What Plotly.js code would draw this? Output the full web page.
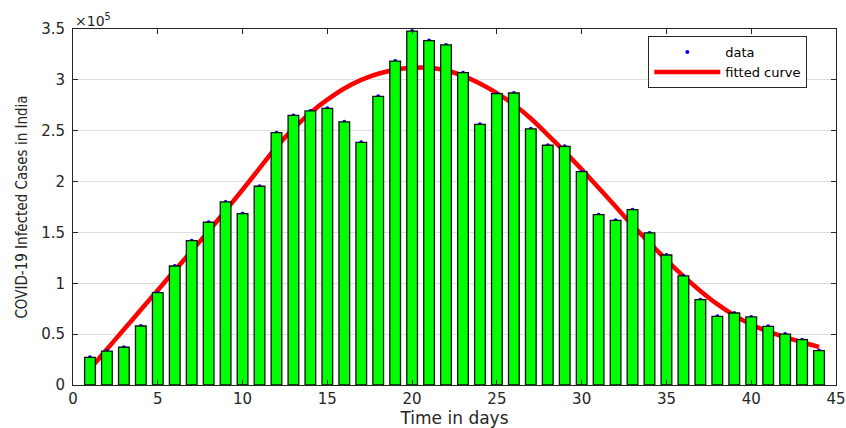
<!DOCTYPE html>
<html>
<head>
<meta charset="utf-8">
<script src="https://cdn.plot.ly/plotly-3.0.1.min.js"></script>
<style>
  html, body { margin: 0; padding: 0; background: #ffffff; }
  #chart { width: 846px; height: 428px; }
</style>
</head>
<body>
<div id="chart"></div>
<script>
// Daily new COVID-19 cases in India over 44 days
const days = [1, 2, 3, 4, 5, 6, 7, 8, 9, 10, 11, 12, 13, 14, 15, 16, 17, 18, 19, 20, 21, 22,
              23, 24, 25, 26, 27, 28, 29, 30, 31, 32, 33, 34, 35, 36, 37, 38, 39, 40, 41, 42, 43, 44];

const cases = [27200, 33400, 37100, 58000, 90800, 117000, 141900, 160000, 180000, 168500,
               195400, 248100, 265000, 269500, 272000, 258700, 238600, 283800, 318500, 348000,
               338600, 334300, 307100, 256300, 286400, 287100, 251900, 235700, 234700, 209700,
               167500, 161900, 172400, 149500, 127800, 107200, 83900, 67500, 70800, 66900,
               57700, 50100, 44600, 33800];

// Fitted curve evaluated at each day
const fitted = [15800, 35200, 54500, 73900, 93200, 112600, 131900, 151300, 171500, 192000,
                213000, 234000, 252000, 267500, 280500, 291500, 300000, 306000, 310000, 311800,
                312000, 309500, 304000, 296500, 287000, 275700, 262000, 246000, 229500, 212000,
                194000, 175500, 157000, 139700, 123000, 107000, 92500, 79500, 68500, 59500,
                52500, 47000, 42000, 37500];

const xTicks = [0, 5, 10, 15, 20, 25, 30, 35, 40, 45];
const yTicks = [0, 50000, 100000, 150000, 200000, 250000, 300000, 350000];
const yTickText = ['0', '0.5', '1', '1.5', '2', '2.5', '3', '3.5'];

const tickFont = { family: 'DejaVu Sans, Liberation Sans, sans-serif', size: 15, color: '#262626' };

const curveTrace = {
  x: days, y: fitted, type: 'scatter', mode: 'lines', name: 'fitted curve',
  line: { color: '#ff0000', width: 4.5, shape: 'spline', smoothing: 1 },
  legendrank: 2, hoverinfo: 'skip'
};

const dataTrace = {
  x: days, y: cases, type: 'scatter', mode: 'markers', name: 'data',
  marker: { color: '#0000ff', size: 4 },
  legendrank: 1, hoverinfo: 'skip'
};

// Bars sit on an overlaid axis pair so they are drawn above the curve
const barTrace = {
  x: days, y: cases, type: 'bar', xaxis: 'x2', yaxis: 'y2', width: 0.63,
  marker: { color: '#00ff00', line: { color: '#111111', width: 1.3 } },
  showlegend: false, hoverinfo: 'skip'
};

const layout = {
  width: 846, height: 428,
  margin: { l: 73, r: 10, t: 29, b: 43 },
  paper_bgcolor: '#ffffff', plot_bgcolor: '#ffffff',
  showlegend: true,
  legend: {
    x: 0.754, y: 0.98, xanchor: 'left', yanchor: 'top',
    bgcolor: '#ffffff', bordercolor: '#262626', borderwidth: 1,
    font: { family: 'DejaVu Sans, Liberation Sans, sans-serif', size: 13, color: '#000000' },
    itemwidth: 66, tracegroupgap: 0
  },
  xaxis: {
    range: [0, 45], tickvals: xTicks, ticktext: xTicks.map(String),
    ticks: 'inside', ticklen: 5, tickcolor: '#262626', mirror: 'allticks',
    showline: true, linecolor: '#262626', linewidth: 1,
    showgrid: false, zeroline: false, tickfont: tickFont, automargin: false,
    title: { text: 'Time in days', standoff: 6,
             font: { family: 'DejaVu Sans, Liberation Sans, sans-serif', size: 17, color: '#262626' } }
  },
  yaxis: {
    range: [0, 350000], tickvals: yTicks, ticktext: yTickText,
    ticks: 'inside', ticklen: 5, tickcolor: '#262626', mirror: 'allticks',
    showline: true, linecolor: '#262626', linewidth: 1,
    showgrid: true, gridcolor: '#dedede', gridwidth: 1, zeroline: false,
    tickfont: tickFont, ticklabelstandoff: 4, automargin: false,
    title: { text: 'COVID-19 Infected Cases in India', standoff: 9,
             font: { family: 'DejaVu Sans Condensed, Liberation Sans Narrow, Arial Narrow, sans-serif', size: 15, color: '#262626' } }
  },
  xaxis2: { overlaying: 'x', anchor: 'y2', range: [0, 45], visible: false, fixedrange: true },
  yaxis2: { overlaying: 'y', anchor: 'x2', range: [0, 350000], visible: false, fixedrange: true },
  annotations: [{
    text: '×10<sup>5</sup>', xref: 'paper', yref: 'paper', x: 0, y: 1,
    xanchor: 'left', yanchor: 'bottom', showarrow: false, yshift: -2,
    font: { family: 'DejaVu Sans, Liberation Sans, sans-serif', size: 14, color: '#262626' }
  }]
};

Plotly.newPlot('chart', [curveTrace, dataTrace, barTrace], layout, { displayModeBar: false, staticPlot: true });
</script>
</body>
</html>
